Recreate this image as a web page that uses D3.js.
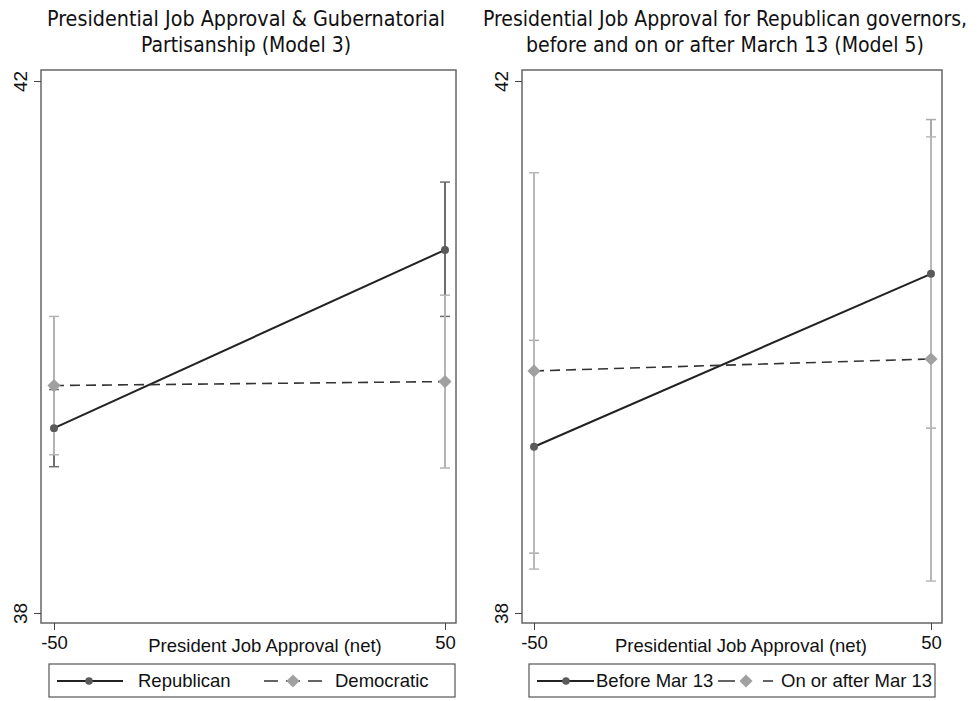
<!DOCTYPE html>
<html>
<head>
<meta charset="utf-8">
<script src="https://cdn.jsdelivr.net/npm/d3@7"></script>
<style>
  body { margin: 0; background: #fff; }
  svg text { font-family: "Liberation Sans", Arial, sans-serif; fill: #111; }
  .title { font-family: "Liberation Sans Narrow", "DejaVu Sans Condensed", sans-serif; font-size: 21px; }
</style>
</head>
<body>
<svg id="canvas"></svg>
<script>
// x values and tick labels
const xVals = [-50, 50];
const yTicks = [38, 42];

// left panel (Model 3)
const repEst = [39.39, 40.73];
const repLo = [39.10, 40.23];
const repHi = [39.68, 41.24];
const demEst = [39.71, 39.74];
const demLo = [39.19, 39.09];
const demHi = [40.23, 40.39];

// right panel (Model 5)
const beforeEst = [39.25, 40.55];
const beforeLo = [38.45, 39.39];
const beforeHi = [40.05, 41.71];
const afterEst = [39.82, 39.91];
const afterLo = [38.33, 38.24];
const afterHi = [41.31, 41.58];

let width = 977;
let height = 701;
let fontSize = '18.5px';

let canvas = d3.select('#canvas');
canvas.attr('width', width);
canvas.attr('height', height);

let yScale = d3.scaleLinear().domain([38, 42]).range([613, 81]);

let series = (est, lo, hi) => xVals.map((x, i) => ({x: x, est: est[i], lo: lo[i], hi: hi[i]}));

let drawPanel = (p) => {
    let xScale = d3.scaleLinear().domain([-50, 50]).range([p.x0, p.x1]);
    let g = canvas.append('g');

    // titles
    p.title.forEach((t, i) => {
        g.append('text').attr('class', 'title')
            .attr('x', p.titleX).attr('y', 26 + i * 26)
            .attr('text-anchor', 'middle')
            .attr('textLength', p.titleW[i]).attr('lengthAdjust', 'spacingAndGlyphs')
            .text(t);
    });

    // frame
    g.append('rect')
        .attr('x', p.left).attr('y', 70)
        .attr('width', p.right - p.left).attr('height', 553)
        .attr('fill', 'none').attr('stroke', '#666').attr('stroke-width', 1.5);

    // axes
    let xAxis = d3.axisBottom(xScale).tickValues(xVals).tickFormat(d => String(d)).tickSize(7).tickPadding(6);
    let yAxis = d3.axisLeft(yScale).tickValues(yTicks).tickFormat(d => String(d)).tickSize(7);

    let gx = g.append('g').attr('transform', 'translate(0,623)').call(xAxis);
    gx.select('.domain').remove();
    gx.selectAll('line').attr('stroke', '#444');
    gx.selectAll('text').style('font-size', fontSize).attr('fill', '#111');

    let gy = g.append('g').attr('transform', 'translate(' + p.left + ',0)').call(yAxis);
    gy.select('.domain').remove();
    gy.selectAll('line').attr('stroke', '#444');
    gy.selectAll('.tick text')
        .style('font-size', '19px').attr('fill', '#111')
        .attr('text-anchor', 'middle')
        .attr('x', 0).attr('y', 0).attr('dy', '0.35em')
        .attr('transform', 'translate(-21,0) rotate(-90)');

    g.append('text')
        .attr('x', p.labelX).attr('y', 652)
        .attr('text-anchor', 'middle')
        .style('font-size', fontSize)
        .text(p.xLabel);

    // error bars, first series underneath
    p.series.forEach(s => {
        let ci = g.append('g');
        s.data.forEach(d => {
            ci.append('line')
                .attr('x1', xScale(d.x)).attr('x2', xScale(d.x))
                .attr('y1', yScale(d.lo)).attr('y2', yScale(d.hi))
                .attr('stroke', s.ciColor).attr('stroke-width', 2);
            [d.lo, d.hi].forEach(v => {
                ci.append('line')
                    .attr('x1', xScale(d.x) - 5).attr('x2', xScale(d.x) + 5)
                    .attr('y1', yScale(v)).attr('y2', yScale(v))
                    .attr('stroke', s.ciColor).attr('stroke-width', 1.5);
            });
        });
    });

    let line = d3.line().x(d => xScale(d.x)).y(d => yScale(d.est));
    p.series.forEach(s => {
        g.append('path').datum(s.data)
            .attr('d', line)
            .attr('fill', 'none').attr('stroke', s.lineColor)
            .attr('stroke-width', s.dash ? 1.6 : 2)
            .attr('stroke-dasharray', s.dash ? '10,6' : null);
        g.selectAll(null).data(s.data).enter().append('path')
            .attr('transform', d => 'translate(' + xScale(d.x) + ',' + yScale(d.est) + ')')
            .attr('d', d3.symbol().type(s.diamond ? d3.symbolDiamond2 : d3.symbolCircle).size(s.diamond ? 110 : 50))
            .attr('fill', s.markColor);
    });

    // legend
    let lg = g.append('g');
    lg.append('rect')
        .attr('x', p.legend.x).attr('y', 664)
        .attr('width', p.legend.w).attr('height', 33)
        .attr('fill', '#fff').attr('stroke', '#555').attr('stroke-width', 1.2);
    p.legend.items.forEach((it, i) => {
        let s = p.series[i];
        lg.append('line')
            .attr('x1', it.l0).attr('x2', it.l1).attr('y1', 681).attr('y2', 681)
            .attr('stroke', s.lineColor).attr('stroke-width', s.dash ? 1.6 : 1.8)
            .attr('stroke-dasharray', s.dash ? it.dash : null);
        lg.append('path')
            .attr('transform', 'translate(' + it.m + ',681)')
            .attr('d', d3.symbol().type(s.diamond ? d3.symbolDiamond2 : d3.symbolCircle).size(s.diamond ? 110 : 45))
            .attr('fill', s.markColor);
        lg.append('text')
            .attr('x', it.tx).attr('y', 687)
            .style('font-size', fontSize)
            .text(s.name);
    });
};

drawPanel({
    left: 41, right: 456, x0: 54, x1: 445,
    title: ['Presidential Job Approval & Gubernatorial', 'Partisanship (Model 3)'],
    titleX: 246, titleW: [398, 210],
    xLabel: 'President Job Approval (net)', labelX: 265,
    series: [
        {name: 'Republican', data: series(repEst, repLo, repHi), ciColor: '#6e6e6e', lineColor: '#222', markColor: '#5a5a5a', dash: false, diamond: false},
        {name: 'Democratic', data: series(demEst, demLo, demHi), ciColor: '#b4b4b4', lineColor: '#333', markColor: '#a0a0a0', dash: true, diamond: true}
    ],
    legend: {x: 49, w: 406, items: [
        {l0: 57, l1: 123, m: 89, tx: 138},
        {l0: 264, l1: 322, m: 293, tx: 335, dash: '14,8'}
    ]}
});

drawPanel({
    left: 522, right: 942, x0: 534, x1: 931,
    title: ['Presidential Job Approval for Republican governors,', 'before and on or after March 13 (Model 5)'],
    titleX: 725, titleW: [484, 398],
    xLabel: 'Presidential Job Approval (net)', labelX: 741,
    series: [
        {name: 'Before Mar 13', data: series(beforeEst, beforeLo, beforeHi), ciColor: '#aaaaaa', lineColor: '#222', markColor: '#5a5a5a', dash: false, diamond: false},
        {name: 'On or after Mar 13', data: series(afterEst, afterLo, afterHi), ciColor: '#b8b8b8', lineColor: '#333', markColor: '#a0a0a0', dash: true, diamond: true}
    ],
    legend: {x: 529, w: 406, items: [
        {l0: 537, l1: 594, m: 566, tx: 596},
        {l0: 718, l1: 773, m: 746, tx: 781, dash: '17,28,10'}
    ]}
});
</script>
</body>
</html>
